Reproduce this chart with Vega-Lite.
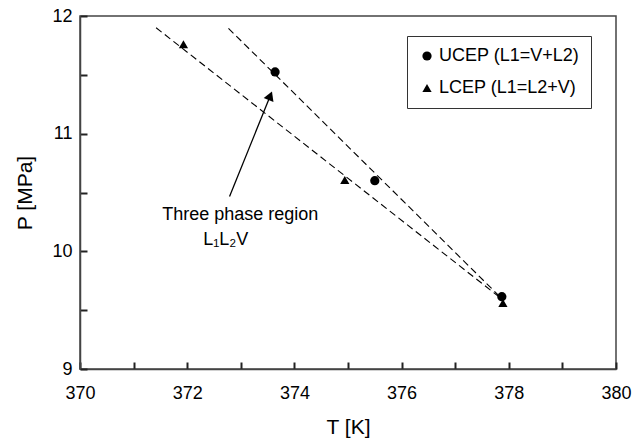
{
  "$schema": "https://vega.github.io/schema/vega-lite/v6.json",
  "width": 536,
  "height": 353,
  "autosize": {"type": "none"},
  "padding": {"left": 80, "top": 16, "right": 16, "bottom": 71},
  "background": "white",
  "config": {
    "font": "Liberation Sans",
    "view": {"stroke": "#444", "strokeWidth": 1.5},
    "axis": {"grid": false, "domainColor": "#444", "domainWidth": 1.5, "labelColor": "black", "titleColor": "black", "labelFont": "Liberation Sans", "titleFont": "Liberation Sans", "titleFontWeight": "normal"}
  },
  "datasets": {
    "pts": [
      {"T": 373.64, "P": 11.525, "type": "UCEP (L1=V+L2)"},
      {"T": 375.5, "P": 10.6, "type": "UCEP (L1=V+L2)"},
      {"T": 377.87, "P": 9.615, "type": "UCEP (L1=V+L2)"},
      {"T": 371.93, "P": 11.76, "type": "LCEP (L1=L2+V)"},
      {"T": 374.94, "P": 10.606, "type": "LCEP (L1=L2+V)"},
      {"T": 377.89, "P": 9.56, "type": "LCEP (L1=L2+V)"}
    ],
    "lines": [
      {"T": 372.77, "P": 11.895, "id": "upper"},
      {"T": 377.8, "P": 9.63, "id": "upper"},
      {"T": 371.42, "P": 11.9, "id": "lower"},
      {"T": 377.8, "P": 9.62, "id": "lower"}
    ],
    "arrow": [
      {"T": 372.79, "P": 10.465, "T2": 373.55, "P2": 11.322}
    ],
    "texts": [
      {"T": 372.99, "P": 10.31, "label": "Three phase region"},
      {"T": 372.72, "P": 10.096, "label": "L₁L₂V"}
    ]
  },
  "layer": [
    {
      "data": {"name": "lines"},
      "mark": {"type": "line", "color": "black", "strokeWidth": 1.1, "strokeDash": [7, 4]},
      "encoding": {
        "x": {"field": "T", "type": "quantitative", "scale": {"domain": [370, 380], "nice": false, "zero": false},
          "axis": {"title": "T [K]", "values": [370, 371, 372, 373, 374, 375, 376, 377, 378, 379, 380], "labelExpr": "datum.value % 2 == 0 ? format(datum.value, 'd') : ''", "ticks": true, "tickSize": -7, "tickColor": "#222", "tickWidth": 2, "tickOpacity": 1, "labelPadding": 22, "labelFontSize": 18, "titleFontSize": 21, "titlePadding": 14, "labelFlush": false}},
        "y": {"field": "P", "type": "quantitative", "scale": {"domain": [9, 12], "nice": false, "zero": false},
          "axis": {"title": "P [MPa]", "values": [9, 9.5, 10, 10.5, 11, 11.5, 12], "labelExpr": "datum.value % 1 == 0 ? format(datum.value, 'd') : ''", "ticks": true, "tickSize": -7, "tickColor": "#222", "tickWidth": 2, "tickOpacity": 1, "labelPadding": 15, "labelFontSize": 18, "titleFontSize": 21, "titlePadding": 16, "labelFlush": false}},
        "detail": {"field": "id"}
      }
    },
    {
      "data": {"name": "arrow"},
      "mark": {"type": "rule", "color": "black", "strokeWidth": 1.3},
      "encoding": {
        "x": {"field": "T", "type": "quantitative"},
        "y": {"field": "P", "type": "quantitative"},
        "x2": {"field": "T2"},
        "y2": {"field": "P2"}
      }
    },
    {
      "data": {"name": "arrow"},
      "mark": {"type": "point", "shape": "triangle-up", "filled": true, "color": "black", "size": 110, "angle": 22, "opacity": 1},
      "encoding": {
        "x": {"field": "T2", "type": "quantitative"},
        "y": {"field": "P2", "type": "quantitative"}
      }
    },
    {
      "data": {"name": "texts"},
      "mark": {"type": "text", "fontSize": 18, "color": "black", "font": "Liberation Sans"},
      "encoding": {
        "x": {"field": "T", "type": "quantitative"},
        "y": {"field": "P", "type": "quantitative"},
        "text": {"field": "label"}
      }
    },
    {
      "data": {"name": "pts"},
      "mark": {"type": "point", "filled": true, "color": "black", "size": 85, "opacity": 1},
      "encoding": {
        "x": {"field": "T", "type": "quantitative"},
        "y": {"field": "P", "type": "quantitative"},
        "shape": {"field": "type", "type": "nominal",
          "scale": {"domain": ["UCEP (L1=V+L2)", "LCEP (L1=L2+V)"], "range": ["circle", "triangle-up"]},
          "legend": {"title": null, "orient": "none", "legendX": 327, "legendY": 20, "strokeColor": "#333", "padding": 11, "labelFontSize": 18, "labelFont": "Liberation Sans", "symbolFillColor": "black", "symbolStrokeColor": "black", "symbolSize": 85, "rowPadding": 14, "labelOffset": 3, "symbolOffset": 0}
        }
      }
    }
  ]
}
